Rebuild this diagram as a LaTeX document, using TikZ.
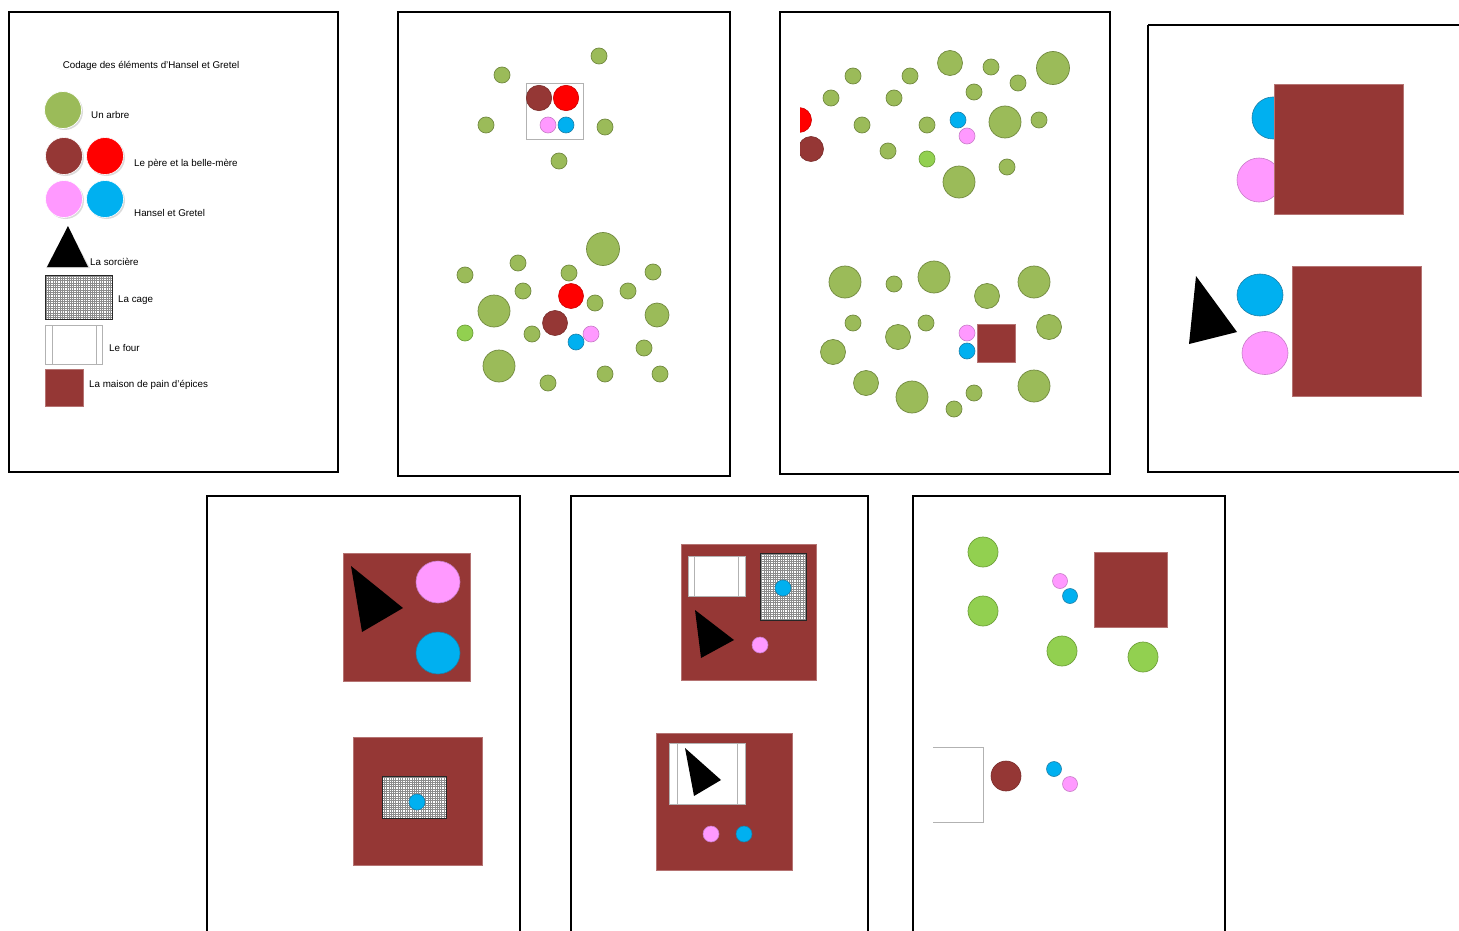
\documentclass[tikz,border=0pt]{standalone}
\usepackage{fontspec}
\setmainfont{Liberation Sans}
\definecolor{treeg}{HTML}{9BBB59}
\definecolor{treee}{HTML}{71893F}
\definecolor{lightg}{HTML}{92D050}
\definecolor{lighte}{HTML}{6FA03A}
\definecolor{bro}{HTML}{953735}
\definecolor{broe}{HTML}{7A2C2A}
\definecolor{pinkc}{HTML}{FF99FF}
\definecolor{pinke}{HTML}{C77CC7}
\definecolor{bluec}{HTML}{00B0F0}
\definecolor{bluee}{HTML}{1C7FA8}
\definecolor{redc}{HTML}{FF0000}
\tikzset{
  frame/.style={draw=black, line width=1.4pt},
  tree/.style={fill=treeg, draw=treee, line width=0.7pt},
  ltree/.style={fill=lightg, draw=lighte, line width=0.7pt},
  father/.style={fill=bro, draw=broe, line width=0.6pt},
  mother/.style={fill=redc, draw=redc!80!black, line width=0.6pt},
  hansel/.style={fill=pinkc, draw=pinke, line width=0.6pt},
  gretel/.style={fill=bluec, draw=bluee, line width=0.6pt},
  house/.style={fill=bro, draw=bro!70!white, line width=0.5pt},
  witch/.style={fill=black},
  cagegrid/.style={draw=black!45, line width=0.22pt},
  cageedge/.style={draw=black!85, line width=0.9pt},
  oven/.style={fill=white, draw=black!30, line width=0.7pt},
  ovenline/.style={draw=black!30, line width=0.7pt},
  lbl/.style={font=\fontsize{9.8}{11}\selectfont, inner sep=0pt, anchor=base west},
  shadowc/.style={fill=black!14}
}
\newcommand\arbre[3]{\filldraw[tree] (#1,#2) circle (#3pt);}
\newcommand\larbre[3]{\filldraw[ltree] (#1,#2) circle (#3pt);}
\newcommand\perso[4]{\filldraw[#1] (#2,#3) circle (#4pt);}
\begin{document}
\begin{tikzpicture}[x=1pt,y=-1pt]
\clip (0,0) rectangle (1459,931);
\fill[white] (0,0) rectangle (1459,931);

% ---------------- Panel 1 : legend ----------------
\draw[frame] (9,12) rectangle (338,472);
\node[lbl, anchor=base] (title) at (151,69) {Codage des éléments d'Hansel et Gretel};
\fill[shadowc] (64.5,111.5) circle (18.5pt);
\filldraw[tree, draw=white] (63,110) circle (18.5pt);
\node[lbl] (l1) at (91,118.5) {Un arbre};
\fill[shadowc] (65.5,157.5) circle (18.5pt);
\fill[shadowc] (106.5,157.5) circle (18.5pt);
\filldraw[father, draw=white] (64,156) circle (18.5pt);
\filldraw[mother, draw=white] (105,156) circle (18.5pt);
\node[lbl] (l2) at (134,167) {Le père et la belle-mère};
\fill[shadowc] (65.5,200.5) circle (18.5pt);
\fill[shadowc] (106.5,200.5) circle (18.5pt);
\filldraw[hansel, draw=white] (64,199) circle (18.5pt);
\filldraw[gretel, draw=white] (105,199) circle (18.5pt);
\node[lbl] (l3) at (134,216) {Hansel et Gretel};
\fill[shadowc] (46,268) -- (90,268) -- (68,227) -- cycle;
\fill[witch] (47,267) -- (88,267) -- (68,226) -- cycle;
\node[lbl] (l4) at (90,265) {La sorcière};
\fill[white] (45,275) rectangle (112,319);
\draw[cagegrid] (45,275) grid[step=2.3pt] (112,319);
\draw[cageedge] (45,275) rectangle (112,319);
\node[lbl] (l5) at (118,302) {La cage};
\filldraw[oven] (45,325) rectangle (102,364);
\draw[ovenline] (52,325) -- (52,364) (96,325) -- (96,364);
\node[lbl] (l6) at (109,351) {Le four};
\filldraw[house] (45,369) rectangle (83,406);
\node[lbl] (l7) at (89,387) {La maison de pain d'épices};

% ---------------- Panel 2 ----------------
\draw[frame] (398,12) rectangle (730,476);
\arbre{599}{56}{8}
\arbre{502}{75}{8}
\arbre{486}{125}{8}
\arbre{605}{127}{8}
\arbre{559}{161}{8}
\draw[draw=black!30, line width=0.8pt] (526,83) rectangle (583,139);
\perso{father}{539}{98}{12.7}
\perso{mother}{566}{98}{12.7}
\perso{hansel}{548}{125}{8}
\perso{gretel}{566}{125}{8}
% bottom
\arbre{603}{249}{16.5}
\arbre{518}{263}{8}
\arbre{465}{275}{8}
\arbre{569}{273}{8}
\arbre{653}{272}{8}
\arbre{523}{291}{8}
\arbre{628}{291}{8}
\arbre{595}{303}{8}
\arbre{494}{311}{16}
\arbre{657}{315}{12}
\larbre{465}{333}{8}
\arbre{532}{334}{8}
\arbre{644}{348}{8}
\arbre{499}{366}{16}
\arbre{548}{383}{8}
\arbre{605}{374}{8}
\arbre{660}{374}{8}
\perso{mother}{571}{296}{12.5}
\perso{father}{555}{323}{12.5}
\perso{hansel}{591}{334}{8}
\perso{gretel}{576}{342}{8}

% ---------------- Panel 3 ----------------
\draw[frame] (780,12) rectangle (1110,474);
\begin{scope}
\clip (800,20) rectangle (1105,470);
\perso{mother}{799}{120}{12.5}
\perso{father}{811}{149}{12.5}
\end{scope}
\arbre{853}{76}{8}
\arbre{831}{98}{8}
\arbre{910}{76}{8}
\arbre{894}{98}{8}
\arbre{950}{63}{12.5}
\arbre{991}{67}{8}
\arbre{1053}{68}{16.5}
\arbre{1018}{83}{8}
\arbre{974}{92}{8}
\arbre{862}{125}{8}
\arbre{927}{125}{8}
\arbre{1005}{122}{16}
\arbre{1039}{120}{8}
\arbre{888}{151}{8}
\larbre{927}{159}{8}
\arbre{1007}{167}{8}
\arbre{959}{182}{16}
\perso{gretel}{958}{120}{8}
\perso{hansel}{967}{136}{8}
% bottom
\arbre{845}{282}{16}
\arbre{894}{284}{8}
\arbre{934}{277}{16}
\arbre{987}{296}{12.5}
\arbre{1034}{282}{16}
\arbre{853}{323}{8}
\arbre{898}{337}{12.5}
\arbre{926}{323}{8}
\arbre{1049}{327}{12.5}
\arbre{833}{352}{12.5}
\arbre{866}{383}{12.5}
\arbre{912}{397}{16}
\arbre{974}{393}{8}
\arbre{954}{409}{8}
\arbre{1034}{386}{16}
\perso{hansel}{967}{333}{8}
\perso{gretel}{967}{351}{8}
\filldraw[house] (977,324) rectangle (1015,362);

% ---------------- Panel 4 ----------------
\draw[frame] (1148,25) -- (1470,25) (1148,25) -- (1148,472) -- (1470,472);
\filldraw[gretel] (1273,118) ellipse [x radius=21pt, y radius=21pt];
\filldraw[hansel] (1259,180) ellipse [x radius=22pt, y radius=22pt];
\filldraw[house] (1274,84) rectangle (1403,214);
\fill[witch] (1196,276) -- (1237,332) -- (1189,344) -- cycle;
\filldraw[gretel] (1260,295) ellipse [x radius=23pt, y radius=21pt];
\filldraw[hansel] (1265,353) ellipse [x radius=23pt, y radius=21.5pt];
\filldraw[house] (1292,266) rectangle (1421,396);

% ---------------- Panel 5 ----------------
\draw[frame] (207,940) -- (207,496) -- (520,496) -- (520,940);
\filldraw[house] (343,553) rectangle (470,681);
\fill[witch] (351,566) -- (403,608) -- (362,632) -- cycle;
\filldraw[hansel] (438,582) ellipse [x radius=22pt, y radius=21pt];
\filldraw[gretel] (438,653) ellipse [x radius=22pt, y radius=21pt];
\filldraw[house] (353,737) rectangle (482,865);
\fill[white] (382,776) rectangle (446,818);
\draw[cagegrid] (382,776) grid[step=2.3pt] (446,818);
\draw[cageedge] (382,776) rectangle (446,818);
\perso{gretel}{417}{802}{8}

% ---------------- Panel 6 ----------------
\draw[frame] (571,940) -- (571,496) -- (868,496) -- (868,940);
\filldraw[house] (681,544) rectangle (816,680);
\filldraw[oven] (688,556) rectangle (745,596);
\draw[ovenline] (694,556) -- (694,596) (738,556) -- (738,596);
\fill[white] (760,553) rectangle (806,620);
\draw[cagegrid] (760,553) grid[step=2.3pt] (806,620);
\draw[cageedge] (760,553) rectangle (806,620);
\perso{gretel}{783}{588}{8}
\fill[witch] (695,610) -- (734,640) -- (701,658) -- cycle;
\perso{hansel}{760}{645}{8}
\filldraw[house] (656,733) rectangle (792,870);
\filldraw[oven] (669,743) rectangle (745,804);
\draw[ovenline] (677,743) -- (677,804) (737,743) -- (737,804);
\fill[witch] (685,748) -- (721,780) -- (694,796) -- cycle;
\perso{hansel}{711}{834}{8}
\perso{gretel}{744}{834}{8}

% ---------------- Panel 7 ----------------
\draw[frame] (913,940) -- (913,496) -- (1225,496) -- (1225,940);
\larbre{983}{552}{15}
\larbre{983}{611}{15}
\larbre{1062}{651}{15}
\larbre{1143}{657}{15}
\perso{hansel}{1060}{581}{7.5}
\perso{gretel}{1070}{596}{7.5}
\filldraw[house] (1094,552) rectangle (1167,627);
\draw[ovenline] (933,747) -- (983,747) -- (983,822) -- (933,822);
\perso{father}{1006}{776}{15}
\perso{gretel}{1054}{769}{7.5}
\perso{hansel}{1070}{784}{7.5}
\end{tikzpicture}
\end{document}
